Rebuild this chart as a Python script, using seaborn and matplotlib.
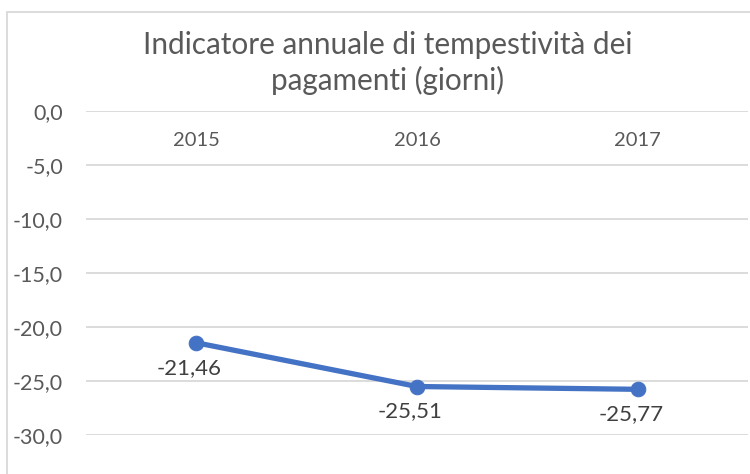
import matplotlib
matplotlib.use("Agg")
import matplotlib.pyplot as plt
import seaborn as sns
import pandas as pd
from matplotlib.ticker import FuncFormatter, MultipleLocator
from matplotlib.patches import Rectangle

anni = ["2015", "2016", "2017"]
indicatore = [-21.46, -25.51, -25.77]
titolo = "Indicatore annuale di tempestività dei\npagamenti (giorni)"

blu = "#4472C4"
grigio_testo = "#595959"
grigio_griglia = "#D9D9D9"

df = pd.DataFrame({"Anno": anni, "Giorni": indicatore})

sns.set_theme(style="white")
plt.rcParams["font.family"] = ["Lato", "DejaVu Sans"]

fig = plt.figure(figsize=(7.5, 4.74), dpi=100)
ax = fig.add_axes([86 / 750, 39 / 474, 662 / 750, 324 / 474])

sns.lineplot(data=df, x="Anno", y="Giorni", ax=ax, color=blu, linewidth=3.8,
             marker="o", markersize=10.5, markeredgecolor=blu, sort=False)

ax.set_xlim(-0.5, len(anni) - 0.5)
ax.set_ylim(-30, 0)
ax.yaxis.set_major_locator(MultipleLocator(5))
ax.yaxis.set_major_formatter(FuncFormatter(lambda v, p: f"{v:.1f}".replace(".", ",")))
ax.grid(axis="y", color=grigio_griglia, linewidth=1.3)
ax.grid(axis="x", visible=False)
for s in ax.spines.values():
    s.set_visible(False)
ax.set_xlabel("")
ax.set_ylabel("")

ax.tick_params(axis="y", length=0, pad=16.5, labelsize=15.5, labelcolor=grigio_testo)
ax.tick_params(axis="x", length=0, top=False, bottom=False, labeltop=True,
               labelbottom=False, pad=-21, labelsize=14.5, labelcolor=grigio_testo)
for lbl in ax.get_xticklabels():
    lbl.set_va("center")

for i, v in enumerate(indicatore):
    ax.annotate(f"{v:.2f}".replace(".", ","), (i, v), xytext=(-5, -18),
                textcoords="offset points", ha="center", va="center",
                fontsize=16, color="#404040")

fig.text(388 / 750, 1 - 63 / 474, titolo, ha="center", va="center",
         fontsize=21.4, color=grigio_testo, linespacing=1.28)

fig.patches.append(Rectangle((7 / 750, -0.1), 1.2, 1 - 12 / 474 + 0.1,
                             transform=fig.transFigure, fill=False,
                             edgecolor=grigio_griglia, linewidth=1.3))

fig.savefig("out.png", dpi=100)
